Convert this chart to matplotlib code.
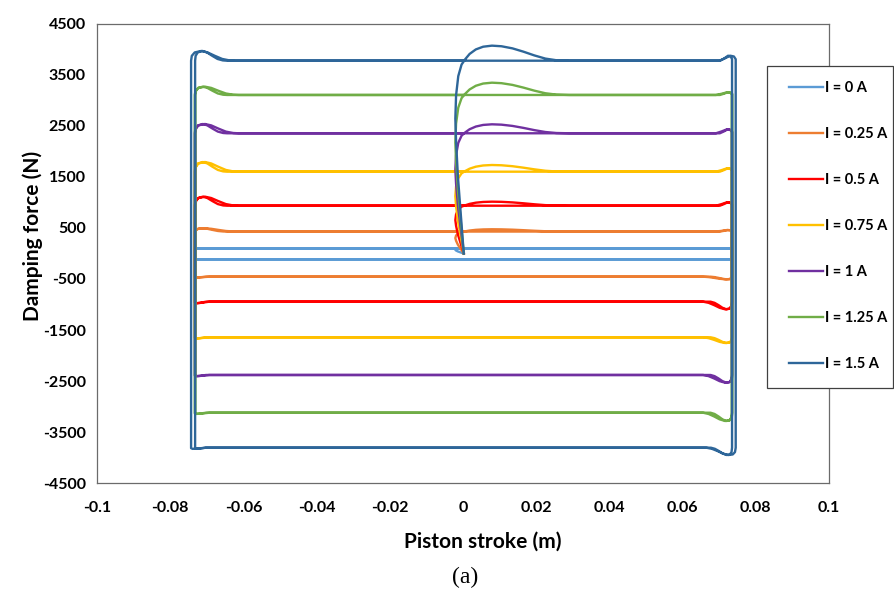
import matplotlib.pyplot as plt
from matplotlib.patches import Rectangle

# Hysteresis loops of the MR damper, one per coil current
labels = ["I = 0 A", "I = 0.25 A", "I = 0.5 A", "I = 0.75 A", "I = 1 A", "I = 1.25 A", "I = 1.5 A"]
colors = ["#5B9BD5", "#ED7D31", "#FF0000", "#FFC000", "#7030A0", "#70AD47", "#2E6699"]

# forces (N)
upper = [100, 430, 937, 1604, 2357, 3108, 3780]           # compression plateau
lower = [-114, -455, -945, -1643, -2382, -3122, -3808]    # rebound plateau
start_peak = [100, 475, 1016, 1735, 2533, 3349, 4075]     # first overshoot near x = 0.008
left_peak = [100, 494, 1114, 1794, 2539, 3271, 3971]      # overshoot after left reversal
right_trough = [-114, -506, -1094, -1755, -2533, -3284, -3951]
right_bump = [100, 460, 1004, 1670, 2435, 3160, 3878]
left_dip = [-114, -470, -975, -1665, -2405, -3145, -3830]

# stroke ends (m), first and second cycle
left_edge = [-0.0733, -0.0733, -0.0733, -0.0733, -0.0733, -0.0733, -0.0743]
left_edge2 = [-0.0731, -0.0731, -0.0731, -0.0731, -0.0731, -0.0731, -0.0732]
right_edge = [0.0736, 0.0736, 0.0736, 0.0736, 0.0736, 0.0736, 0.0745]
right_edge2 = [0.0734, 0.0734, 0.0734, 0.0734, 0.0734, 0.0734, 0.0735]

# curve shapes traced from the 1.5 A loop: (dx, fraction of the overshoot)
START_RISE = [(0.0002, 0.0), (-0.0006, 0.2), (-0.0014, 0.4), (-0.0019, 0.58), (-0.0021, 0.7),
              (-0.0019, 0.82), (-0.0013, 0.92), (-0.0004, 0.98)]
START_HUMP = [(0.0006, 0.1), (0.0018, 0.45), (0.0035, 0.75), (0.0055, 0.93), (0.0079, 1.0),
              (0.0105, 0.96), (0.0135, 0.82), (0.0165, 0.6), (0.0195, 0.35), (0.0225, 0.14),
              (0.0255, 0.03), (0.029, 0.0)]
BUMP = [(-0.0045, 0.0), (-0.003, 0.45), (-0.0015, 1.0), (-0.0005, 0.85), (0.0, 0.3)]
TROUGH = [(0.0, 0.0), (-0.0002, 0.6), (-0.0008, 0.92), (-0.002, 1.0), (-0.0035, 0.8),
          (-0.005, 0.45), (-0.0065, 0.15), (-0.008, 0.0)]
DIP = [(0.004, 0.0), (0.0015, 0.8), (0.0004, 1.0), (0.0, 0.4)]
HUMP = [(0.0, 0.0), (0.0002, 0.5), (0.001, 0.85), (0.0028, 1.0), (0.0045, 0.85), (0.0065, 0.5),
        (0.0085, 0.18), (0.0105, 0.03), (0.012, 0.0)]


def lerp(a, b, f):
    return a + f * (b - a)


def loop(i):
    xs, ys = [], []

    def add(x0, tmpl, base, extreme, s=1.0):
        for dx, f in tmpl:
            xs.append(x0 + dx * s)
            ys.append(lerp(base, extreme, f))

    add(0.0, START_RISE, 0.0, upper[i])
    add(0.0, START_HUMP, upper[i], start_peak[i])
    edges = [(left_edge[i], right_edge[i]), (left_edge2[i], right_edge2[i])]
    for (xl, xr), s in zip(edges, [1.0, 0.72]):
        add(xr, BUMP, upper[i], right_bump[i], s)
        add(xr, TROUGH, lower[i], right_trough[i], s)
        add(xl, DIP, lower[i], left_dip[i], s)
        add(xl, HUMP, upper[i], left_peak[i], s)
    xs.append(0.0)
    ys.append(upper[i])
    return xs, ys


plt.rcParams["font.family"] = ["Lato", "DejaVu Sans"]
plt.rcParams["font.weight"] = "bold"

fig = plt.figure(figsize=(8.95, 5.92), dpi=100)
ax = fig.add_axes([0.1084, 0.1841, 0.8179, 0.7754])

handles = []
for i in range(len(labels)):
    xs, ys = loop(i)
    h, = ax.plot(xs, ys, color=colors[i], lw=1.7, solid_joinstyle="round", label=labels[i])
    handles.append(h)

ax.set_xlim(-0.1, 0.1)
ax.set_ylim(-4500, 4500)
xt = [-0.1, -0.08, -0.06, -0.04, -0.02, 0, 0.02, 0.04, 0.06, 0.08, 0.1]
ax.set_xticks(xt)
ax.set_xticklabels([("%g" % v) for v in xt])
yt = list(range(-4500, 4501, 1000))
ax.set_yticks(yt)
ax.set_yticklabels([str(v) for v in yt])
ax.tick_params(length=0, labelsize=11.5)
ax.tick_params(axis="x", pad=13)
ax.tick_params(axis="y", pad=8)
for sp in ax.spines.values():
    sp.set_color("#6b6b6b")
    sp.set_linewidth(0.9)

ax.set_xlabel("Piston stroke (m)", fontsize=15, fontweight="bold")
ax.set_ylabel("Damping force (N)", fontsize=15, fontweight="bold")
ax.xaxis.set_label_coords(0.527, -0.107)
ax.yaxis.set_label_coords(-0.074, 0.538)

# legend box sits across the right spine
fig.add_artist(Rectangle((767 / 895, 1 - 388 / 592), 126 / 895, 322 / 592,
                         transform=fig.transFigure, facecolor="white",
                         edgecolor="#404040", linewidth=0.9, zorder=3))
fig.legend(handles=handles, loc="upper left", bbox_to_anchor=(789 / 895, 1 - 81 / 592),
           frameon=False, fontsize=10.5, handlelength=2.3, handletextpad=0.15,
           labelspacing=2.2, borderpad=0, borderaxespad=0)

fig.text(0.5195, 1 - 577 / 592, "(a)", ha="center", va="center",
         family="Liberation Serif", fontsize=17, fontweight="normal")

fig.savefig("out.png", dpi=100)
